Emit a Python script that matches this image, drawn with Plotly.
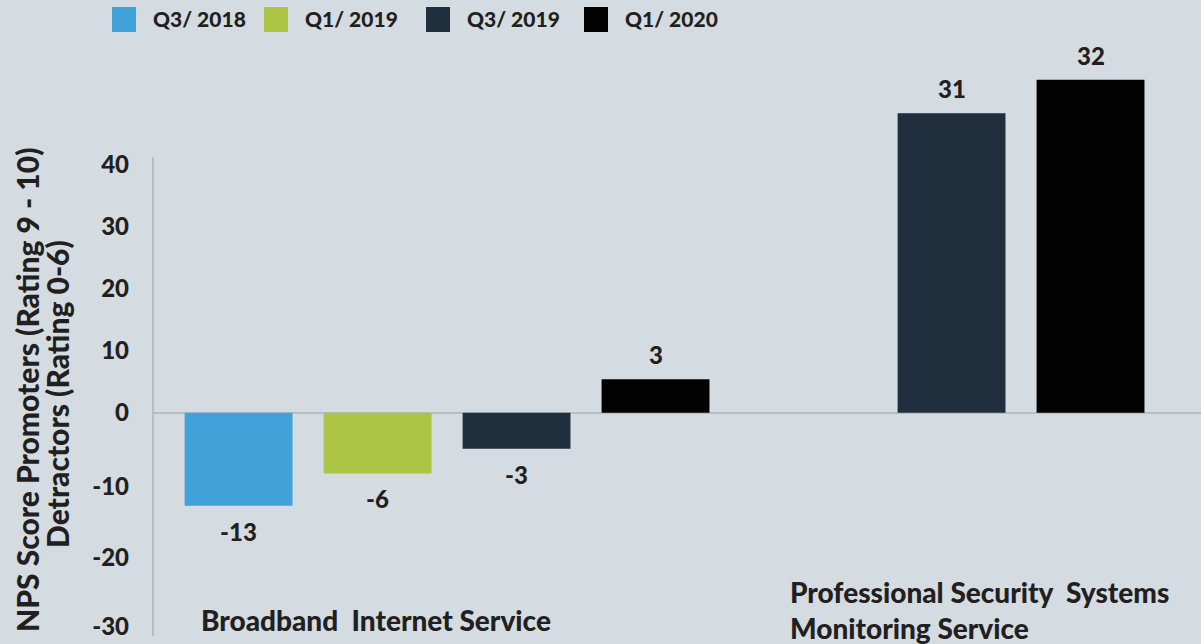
import plotly.graph_objects as go

# ---------------- data ----------------
categories = ["Broadband\u00a0 Internet Service",
              "Professional Security\u00a0 Systems<br>Monitoring Service"]
series = ["Q3/ 2018", "Q1/ 2019", "Q3/ 2019", "Q1/ 2020"]
colors = ["#41a1d9", "#adc444", "#1f2f3e", "#020202"]

# printed value labels (None = no bar)
labels_broadband = [-13, -6, -3, 3]
labels_security = [None, None, 31, 32]
# bar heights as drawn against the chart's value axis
heights_broadband = [-15.0, -9.8, -5.8, 5.4]
heights_security = [None, None, 48.3, 53.7]

tick_text = ["-30", "-20", "-10", "0", "10", "20", "30", "40"]
tick_vals = [-34.5, -23.4, -11.9, 0, 10, 20, 30, 40]

y_title_lines = ["NPS Score Promoters (Rating 9 - 10)", "Detractors (Rating 0-6)"]

# ---------------- layout constants ----------------
W, H = 1201, 644
ML = 153
BG = "#d4dbe1"
TXT = "#231f20"
FONT = "Lato"
slot = 0.3195
bar_w = 0.248
pw = W - ML

fig = go.Figure()
annotations = []
heights = [heights_broadband, heights_security]
labels = [labels_broadband, labels_security]

for si, name in enumerate(series):
    xs, ys = [], []
    for gi in range(len(categories)):
        h = heights[gi][si]
        if h is None:
            continue
        xc = gi + (si - 1.5) * slot
        xs.append(xc)
        ys.append(h)
        lab = labels[gi][si]
        annotations.append(dict(
            x=xc, y=h, xref="x", yref="y", text=str(lab), showarrow=False,
            yanchor="bottom" if h > 0 else "top",
            yshift=8 if h > 0 else -9,
            font=dict(family=FONT, size=24, color=TXT, weight=900)))
    fig.add_trace(go.Bar(x=xs, y=ys, width=bar_w, name=name,
                         marker=dict(color=colors[si], line=dict(width=0)),
                         showlegend=False))

# manual legend
leg_x = [112, 264, 426, 584]
shapes = []
for si, name in enumerate(series):
    x0 = leg_x[si]
    shapes.append(dict(type="rect", xref="paper", yref="paper",
                       x0=(x0 - ML) / pw, x1=(x0 + 24 - ML) / pw,
                       y0=1 - 32 / H, y1=1 - 7 / H,
                       fillcolor=colors[si], line=dict(width=0)))
    annotations.append(dict(x=(x0 + 39 - ML) / pw, y=1 - 19 / H, xref="paper", yref="paper",
                            text=name, showarrow=False, xanchor="left", yanchor="middle",
                            font=dict(family=FONT, size=21, color=TXT, weight=900)))

# axis line (partial)
shapes.append(dict(type="line", xref="paper", yref="paper", x0=0, x1=0,
                   y0=1 - 636 / H, y1=1 - 157 / H, line=dict(color="#b9bec3", width=2)))

# category labels
annotations.append(dict(x=(199 - ML) / pw, y=1 - 620 / H, xref="paper", yref="paper",
                        text=categories[0], showarrow=False, xanchor="left", yanchor="middle",
                        align="left", font=dict(family=FONT, size=28, color=TXT, weight=900)))
annotations.append(dict(x=(788 - ML) / pw, y=1 - 610 / H, xref="paper", yref="paper",
                        text=categories[1], showarrow=False, xanchor="left", yanchor="middle",
                        align="left", font=dict(family=FONT, size=28, color=TXT, weight=900)))
# y title (two rotated lines)
for li, (xc, yc) in enumerate([(27, 390), (57, 394)]):
    annotations.append(dict(x=(xc - ML) / pw, y=1 - yc / H, xref="paper", yref="paper",
                            text=y_title_lines[li], showarrow=False, textangle=-90,
                            xanchor="center", yanchor="middle", align="center",
                            font=dict(family=FONT, size=30, color=TXT, weight=900)))

fig.update_layout(
    width=W, height=H,
    margin=dict(l=ML, r=0, t=0, b=0),
    paper_bgcolor=BG, plot_bgcolor=BG,
    barmode="overlay",
    shapes=shapes, annotations=annotations,
    xaxis=dict(range=[-0.676, -0.676 + pw / 435], showgrid=False, zeroline=False,
               showticklabels=False, showline=False, fixedrange=True),
    yaxis=dict(range=[-(H - 412.7) / 6.2, 412.7 / 6.2], showgrid=False,
               zeroline=True, zerolinecolor="#b9bec3", zerolinewidth=2,
               tickvals=tick_vals, ticktext=tick_text, ticks="",
               ticklabelstandoff=23, showline=False,
               tickfont=dict(family=FONT, size=24, color=TXT, weight=900)),
)

fig.write_html("out.html")
